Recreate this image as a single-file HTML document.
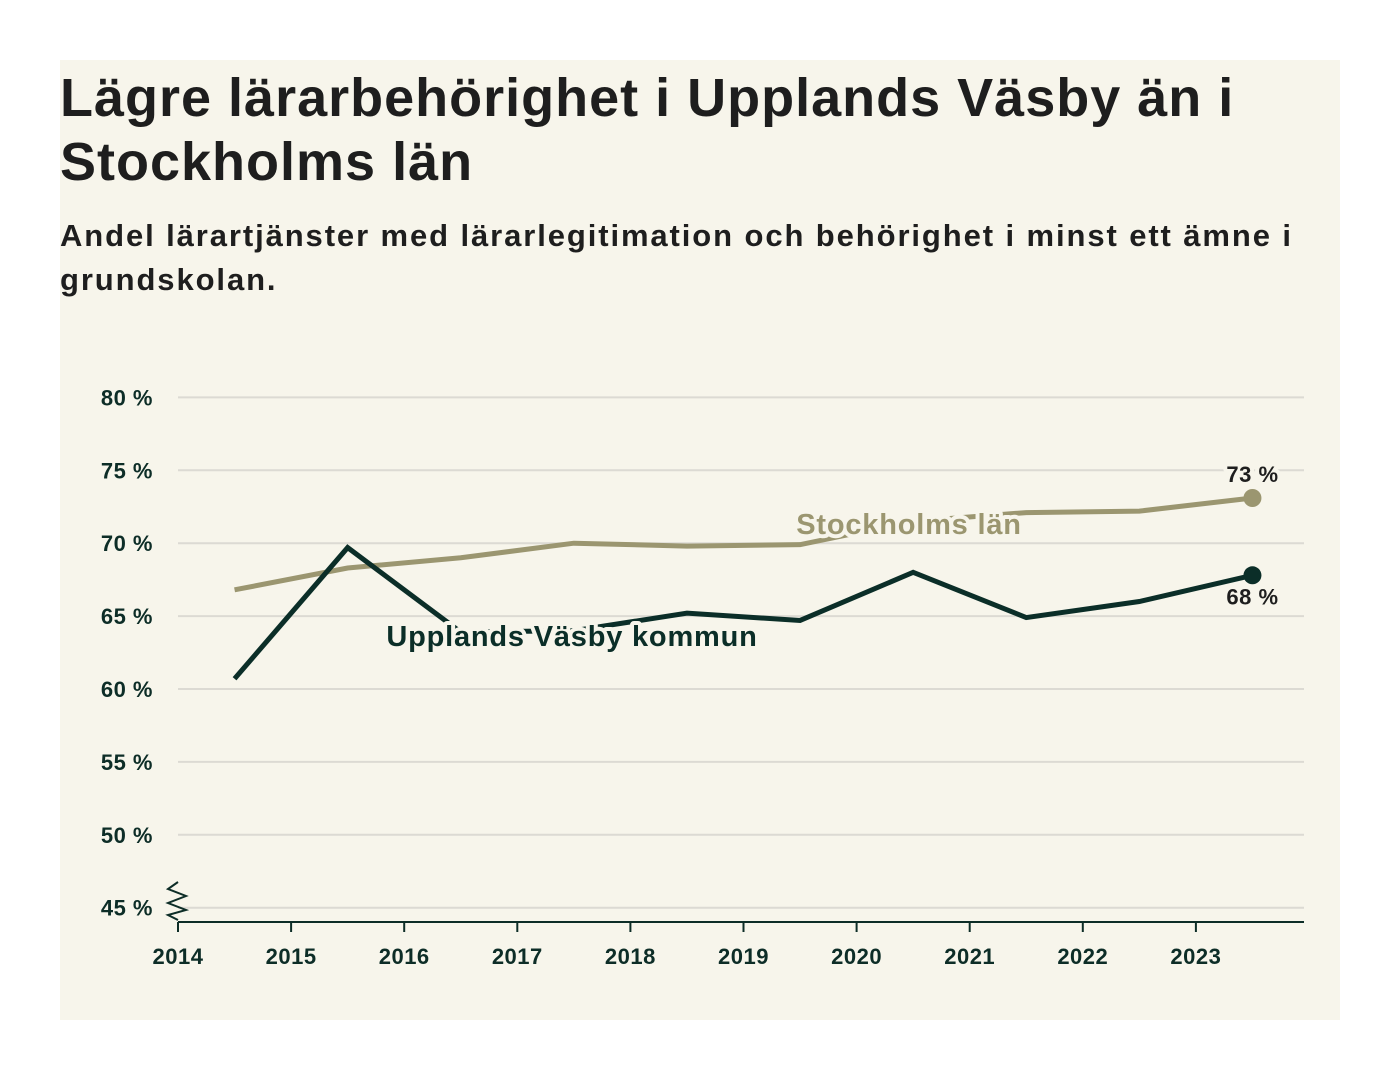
<!DOCTYPE html>
<html><head><meta charset="utf-8">
<style>
body{margin:0;width:1400px;height:1080px;background:#fff;font-family:"Liberation Sans",sans-serif;}
#panel{position:absolute;left:60px;top:60px;width:1280px;height:960px;background:#f7f5eb;}
h1{position:absolute;left:0;top:6px;margin:0;font-size:54px;line-height:64px;font-weight:bold;color:#1e1e1e;letter-spacing:1px;width:1270px;}
h2{position:absolute;left:0;top:154px;margin:0;font-size:31px;line-height:44px;font-weight:bold;color:#1e1e1e;letter-spacing:1.9px;width:1270px;}
svg{position:absolute;left:0;top:0;}
</style></head><body>
<div id="panel">
<h1>Lägre lärarbehörighet i Upplands Väsby än i Stockholms län</h1>
<h2>Andel lärartjänster med lärarlegitimation och behörighet i minst ett ämne i grundskolan.</h2>
</div>
<svg id="chart" width="1400" height="1080"></svg>
<script>
const years=[2014.5,2015.5,2016.5,2017.5,2018.5,2019.5,2020.5,2021.5,2022.5,2023.5];
const stockholm=[66.8,68.3,69.0,70.0,69.8,69.9,71.5,72.1,72.2,73.1];
const vasby=[60.7,69.7,63.9,64.0,65.2,64.7,68.0,64.9,66.0,67.8];
const yTicks=[45,50,55,60,65,70,75,80];
const xTicks=[2014,2015,2016,2017,2018,2019,2020,2021,2022,2023];
const NS="http://www.w3.org/2000/svg";
const svg=document.getElementById('chart');
const x=v=>178+(v-2014)*113.1;
const y=v=>689-(v-60)*14.58;
function el(t,a,p){const e=document.createElementNS(NS,t);for(const k in a)e.setAttribute(k,a[k]);(p||svg).appendChild(e);return e;}
yTicks.forEach(t=>{
 const g=el('line',{x1:178,x2:1304,y1:y(t),y2:y(t),stroke:'#dcdad3','stroke-width':2});
 
 
 const l=el('text',{x:153,y:y(t)+8,'text-anchor':'end','font-size':22,'font-weight':'bold','letter-spacing':0.5,fill:'#0d2d27'});
 l.textContent=t+' %';
 
 
});
const ax=el('line',{x1:178,x2:1304,y1:922,y2:922,stroke:'#0d2d27','stroke-width':2});


const zz=el('polyline',{points:'178,882 168,889 186,896 168,903 186,910 168,915 178,920',fill:'none',stroke:'#0d2d27','stroke-width':2});


xTicks.forEach(t=>{
 const tk=el('line',{x1:x(t),x2:x(t),y1:922,y2:932,stroke:'#0d2d27','stroke-width':2});
 
 
 const l=el('text',{x:x(t),y:964,'text-anchor':'middle','font-size':22,'font-weight':'bold','letter-spacing':0.5,fill:'#0d2d27'});
 l.textContent=t;
 
 
});
function series(vals,color,name){
 const p=el('polyline',{points:years.map((yr,i)=>x(yr)+','+y(vals[i])).join(' '),fill:'none',stroke:color,'stroke-width':5,'stroke-linejoin':'miter'});
 
 
 const n=years.length-1;
 const c=el('circle',{cx:x(years[n]),cy:y(vals[n]),r:9,fill:color});
 
 
}
series(stockholm,'#9b9670','stockholm');
series(vasby,'#0b2e28','vasby');
function label(txt,xx,yy,col,anchor,size,ls,name){
 const t=el('text',{x:xx,y:yy,'text-anchor':anchor,'font-size':size,'font-weight':'bold','letter-spacing':ls,fill:col,stroke:'#f7f5eb','stroke-width':8,'paint-order':'stroke','stroke-linejoin':'round'});
 t.textContent=txt;
 
 
}
label('Stockholms län',909,534,'#9b9670','middle',29,0.8,'stockholm-label');
label('Upplands Väsby kommun',572,646,'#0b2e28','middle',29,0.8,'vasby-label');
const n=years.length-1;
label(Math.round(stockholm[n])+' %',x(years[n]),y(stockholm[n])-16,'#1e1e1e','middle',22,0.5,'stockholm-end-value');
label(Math.round(vasby[n])+' %',x(years[n]),y(vasby[n])+29,'#1e1e1e','middle',22,0.5,'vasby-end-value');
</script>
</body></html>
